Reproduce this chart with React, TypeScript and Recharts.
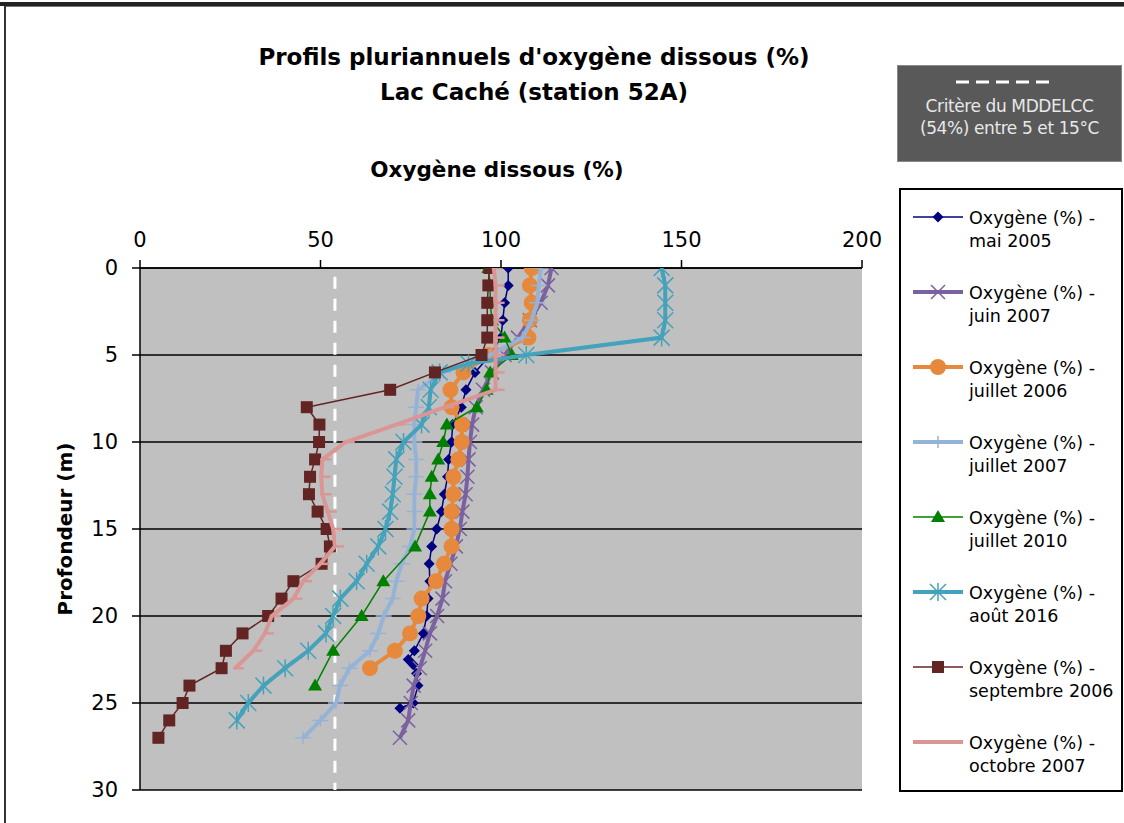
import React from 'react'
import { ScatterChart, Scatter, XAxis, YAxis, CartesianGrid, ReferenceLine } from 'recharts'

// depth (m) and dissolved oxygen (%) per campaign
const depthMai2005 = [0, 1, 2, 3, 4, 5, 6, 7, 8, 9, 10, 11, 12, 13, 14, 15, 16, 17, 18, 19, 20, 21, 22, 22.5, 22.8, 23.3, 24, 25, 25.3]
const oxyMai2005 = [102, 102, 101, 100.5, 100, 97, 92.8, 90.3, 89, 86.6, 86.3, 85.5, 85.2, 84.3, 83.5, 82.2, 80.8, 80.1, 80.3, 79.8, 79.4, 78.5, 76, 74.3, 75.7, 76.6, 77, 75.7, 72]

const depthJuin2007 = [0, 1, 2, 3, 4, 5, 6, 7, 8, 9, 10, 11, 12, 13, 14, 15, 16, 17, 18, 19, 20, 21, 22, 23, 24, 25, 26, 27]
const oxyJuin2007 = [114, 113, 111, 108, 104.7, 101, 97.5, 95, 93, 92, 91.4, 91, 90.7, 90.2, 89.3, 88.6, 87.5, 86, 84.5, 83.8, 82.3, 80.3, 79, 77.5, 75.8, 75, 74.3, 72]

const depthJuil2006 = [0, 1, 2, 3, 4, 5, 6, 7, 8, 9, 10, 11, 12, 13, 14, 15, 16, 17, 18, 19, 20, 21, 22, 23]
const oxyJuil2006 = [108.5, 108, 108.5, 108, 107.6, 96.5, 89.6, 86, 86.3, 89.2, 89.1, 88.2, 86.8, 86.8, 86.3, 86.3, 86.3, 84.2, 82, 78, 77.1, 74.8, 70.6, 63.7]

const depthJuil2007 = [0, 1, 2, 3, 4, 5, 6, 7, 8, 9, 10, 11, 12, 13, 14, 15, 16, 17, 18, 19, 20, 21, 22, 23, 24, 25, 26, 27]
const oxyJuil2007 = [111, 110.5, 110, 108.5, 106, 97, 84, 77, 76.5, 76, 76, 76.5, 76.5, 76, 76, 76, 74.8, 72.5, 71, 70, 67.5, 66, 63.7, 58, 55.4, 54.3, 50, 45.2]

const depthJuil2010 = [0, 1, 2, 3, 4, 5, 6, 7, 8, 9, 10, 11, 12, 13, 14, 16, 18, 20, 22, 24]
const oxyJuil2010 = [96.5, 97, 97, 97.5, 101, 103, 97, 96, 93.3, 85, 84, 82.6, 80.8, 80.3, 80.3, 76.2, 67.4, 61.4, 53.5, 48.5]

const depthAout2016 = [0, 1, 2, 3, 4, 5, 5.5, 6, 7, 8, 9, 10, 11, 12, 13, 14, 15, 16, 17, 18, 19, 20, 21, 22, 23, 24, 25, 26]
const oxyAout2016 = [144.5, 145.5, 145.5, 145.5, 144.5, 107, 91, 83, 80.5, 80, 78, 73, 71, 70.5, 70, 69.3, 68, 66, 62.8, 60, 55.5, 53.5, 51.5, 46.6, 40.2, 34.2, 30, 26.8]

const depthSept2006 = [0, 1, 2, 3, 4, 5, 6, 7, 8, 9, 10, 11, 12, 13, 14, 15, 16, 17, 18, 19, 20, 21, 22, 23, 24, 25, 26, 27]
const oxySept2006 = [96.8, 96.5, 96.2, 96.2, 96.2, 94.6, 81.7, 69.3, 46.2, 49.7, 49.6, 48.5, 47.1, 46.8, 49.2, 51.7, 52.6, 50.3, 42.5, 39.2, 35.5, 28.4, 23.8, 22.6, 13.7, 11.8, 8.1, 5.1]

const depthOct2007 = [0, 1, 2, 3, 4, 5, 6, 7, 8, 9, 10, 11, 12, 13, 14, 15, 16, 17, 18, 19, 20, 21, 22, 23]
const oxyOct2007 = [98, 98.5, 98.5, 98.5, 98.5, 98.5, 98.5, 98.5, 84.5, 71, 57, 50.5, 50.2, 50.5, 52, 53.5, 54, 49.9, 45.2, 42.5, 36.5, 34.6, 31.4, 26.3]

const xTicks = [0, 50, 100, 150, 200]
const yTicks = [0, 5, 10, 15, 20, 25, 30]
const critere = 54

const FONT = '"DejaVu Sans", sans-serif'

const toData = (depths: number[], vals: number[]) => depths.map((d, i) => ({ d, o: vals[i] }))

// marker shapes
const Diamond = ({ cx, cy, color }: any) => (
  <polygon points={`${cx},${cy - 5.5} ${cx + 5.5},${cy} ${cx},${cy + 5.5} ${cx - 5.5},${cy}`} fill={color} />
)
const Cross = ({ cx, cy, color }: any) => (
  <path d={`M${cx - 7},${cy - 7}L${cx + 7},${cy + 7}M${cx - 7},${cy + 7}L${cx + 7},${cy - 7}`} stroke={color} strokeWidth={1.5} />
)
const Circle = ({ cx, cy, color }: any) => <circle cx={cx} cy={cy} r={8} fill={color} />
const Plus = ({ cx, cy, color }: any) => (
  <path d={`M${cx - 8},${cy}L${cx + 8},${cy}M${cx},${cy - 6}L${cx},${cy + 6}`} stroke={color} strokeWidth={1.5} />
)
const Triangle = ({ cx, cy, color }: any) => (
  <polygon points={`${cx},${cy - 7} ${cx + 7},${cy + 5} ${cx - 7},${cy + 5}`} fill={color} />
)
const Star = ({ cx, cy, color }: any) => (
  <path d={`M${cx - 8},${cy - 8}L${cx + 8},${cy + 8}M${cx - 8},${cy + 8}L${cx + 8},${cy - 8}M${cx},${cy - 9}L${cx},${cy + 9}`} stroke={color} strokeWidth={1.5} />
)
const Square = ({ cx, cy, color }: any) => <rect x={cx - 6} y={cy - 6} width={12} height={12} fill={color} />
const Dash = ({ cx, cy, color }: any) => (
  <path d={`M${cx - 2},${cy}L${cx + 9},${cy}`} stroke={color} strokeWidth={2.5} />
)

const series = [
  { name: 'mai 2005', data: toData(depthMai2005, oxyMai2005), color: '#000080', width: 1.5, Mark: Diamond },
  { name: 'juin 2007', data: toData(depthJuin2007, oxyJuin2007), color: '#7A62A0', width: 4, Mark: Cross },
  { name: 'juillet 2006', data: toData(depthJuil2006, oxyJuil2006), color: '#E6893C', width: 4, Mark: Circle },
  { name: 'juillet 2007', data: toData(depthJuil2007, oxyJuil2007), color: '#95B3D7', width: 4, Mark: Plus },
  { name: 'juillet 2010', data: toData(depthJuil2010, oxyJuil2010), color: '#008000', width: 1.5, Mark: Triangle },
  { name: 'août 2016', data: toData(depthAout2016, oxyAout2016), color: '#44A2BB', width: 4, Mark: Star },
  { name: 'septembre 2006', data: toData(depthSept2006, oxySept2006), color: '#632523', width: 1.5, Mark: Square },
  { name: 'octobre 2007', data: toData(depthOct2007, oxyOct2007), color: '#D99694', width: 4, Mark: Dash },
]

const abs = (s: React.CSSProperties): React.CSSProperties => ({ position: 'absolute', ...s })

export default function App() {
  return (
    <div style={{ position: 'absolute', left: 0, top: 0, width: 1124, height: 823, background: '#fff', overflow: 'hidden', fontFamily: FONT }}>
      {/* frame */}
      <div style={abs({ left: 0, top: 2, width: 1124, height: 4, background: '#222' })} />
      <div style={abs({ left: 4, top: 6, width: 1120, height: 1, background: '#777' })} />
      <div style={abs({ left: 4, top: 6, width: 1.5, height: 817, background: '#333' })} />

      {/* titles */}
      <div style={abs({ left: 184, top: 40, width: 700, textAlign: 'center', fontWeight: 'bold', fontSize: 23, lineHeight: '35px', color: '#000' })}>
        Profils pluriannuels d'oxygène dissous (%)
        <br />
        Lac Caché (station 52A)
      </div>
      <div style={abs({ left: 297, top: 157, width: 400, textAlign: 'center', fontWeight: 'bold', fontSize: 21.5, color: '#000' })}>
        Oxygène dissous (%)
      </div>
      <div style={abs({ left: 65, top: 530, width: 0, height: 0 })}>
        <div style={{ position: 'absolute', left: -120, top: -13, width: 240, textAlign: 'center', fontWeight: 'bold', fontSize: 20, transform: 'rotate(-90deg)', whiteSpace: 'nowrap' }}>
          Profondeur (m)
        </div>
      </div>

      {/* criterion box */}
      <div style={abs({ left: 897, top: 65, width: 225, height: 97, background: '#595959', boxSizing: 'border-box', border: '1px solid #8a8a8a' })} />
      <svg style={abs({ left: 950, top: 76 })} width={110} height={12}>
        <line x1={6} y1={6} x2={102} y2={6} stroke="#fff" strokeWidth={3} strokeDasharray="13 7" />
      </svg>
      <div style={abs({ left: 897, top: 95, width: 225, textAlign: 'center', color: '#e8e8e8', fontSize: 17, lineHeight: '22px', letterSpacing: -0.4 })}>
        Critère du MDDELCC
        <br />
        (54%) entre 5 et 15°C
      </div>

      {/* legend */}
      <div style={abs({ left: 899, top: 188, width: 224, height: 604, boxSizing: 'border-box', border: '2px solid #000', background: '#fff' })} />
      {series.map((s, i) => {
        const y = 218 + 75 * i
        return (
          <React.Fragment key={s.name}>
            <svg style={abs({ left: 905, top: y - 12 })} width={66} height={24}>
              <line x1={8} y1={11} x2={58} y2={11} stroke={s.color} strokeWidth={s.width} />
              {s.Mark !== Dash && <s.Mark cx={33} cy={11} color={s.color} />}
            </svg>
            <div style={abs({ left: 969, top: y - 11, fontSize: 17.5, lineHeight: '22.5px', color: '#000', whiteSpace: 'nowrap' })}>
              Oxygène (%) -
              <br />
              {s.name}
            </div>
          </React.Fragment>
        )
      })}

      {/* chart */}
      <div style={abs({ left: 0, top: 0 })}>
        <ScatterChart width={1124} height={823} margin={{ top: 238, right: 262, bottom: 33, left: 80 }}>
          <CartesianGrid vertical={false} horizontal stroke="#000" strokeWidth={1.5} fill="#C0C0C0" fillOpacity={1} />
          <XAxis
            type="number"
            dataKey="o"
            orientation="top"
            domain={[0, 200]}
            ticks={xTicks}
            height={30}
            tickSize={8}
            tickMargin={13}
            axisLine={{ stroke: '#000', strokeWidth: 1.5 }}
            tickLine={{ stroke: '#000', strokeWidth: 1.5 }}
            tick={{ fill: '#000', fontSize: 21, fontFamily: FONT }}
            allowDataOverflow
          />
          <YAxis
            type="number"
            dataKey="d"
            reversed
            domain={[0, 30]}
            ticks={yTicks}
            width={60}
            tickSize={8}
            tickMargin={14}
            axisLine={{ stroke: '#000', strokeWidth: 1.5 }}
            tickLine={{ stroke: '#000', strokeWidth: 1.5 }}
            tick={{ fill: '#000', fontSize: 21, fontFamily: FONT }}
            allowDataOverflow
          />
          <ReferenceLine
            segment={[{ x: critere, y: 0.5 }, { x: critere, y: 30 }]}
            stroke="#fff"
            strokeWidth={3}
            strokeDasharray="12 10"
          />
          {series.map(s => (
            <Scatter
              key={s.name}
              name={s.name}
              data={s.data}
              fill={s.color}
              line={{ stroke: s.color, strokeWidth: s.width }}
              shape={(p: any) => <s.Mark cx={p.cx} cy={p.cy} color={s.color} />}
              isAnimationActive={false}
            />
          ))}
        </ScatterChart>
      </div>
    </div>
  )
}
